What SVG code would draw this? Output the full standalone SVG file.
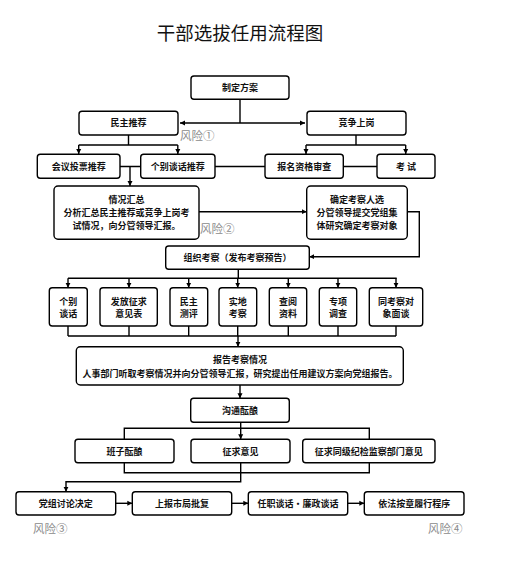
<svg xmlns="http://www.w3.org/2000/svg" width="505" height="569" viewBox="0 0 505 569">
<style>
.b{fill:#fff;stroke:#000;stroke-width:1.4}
.t{font-family:"Noto Sans CJK SC","Liberation Sans",sans-serif;font-size:9px;font-weight:bold;text-anchor:middle;fill:#111}
.r{font-family:"Noto Sans CJK SC","Liberation Serif",serif;font-size:11.5px;fill:#8a8a8a}
.l{fill:none;stroke:#000;stroke-width:1.4}
.a{fill:none;stroke:#000;stroke-width:1.4;marker-end:url(#ah)}
</style>
<defs>
<marker id="ah" markerWidth="6" markerHeight="6" refX="5" refY="3" orient="auto" markerUnits="userSpaceOnUse">
<path d="M0,0.5 L5,3 L0,5.5 Z" fill="#000"/>
</marker>
<marker id="as" markerWidth="6" markerHeight="6" refX="1" refY="3" orient="auto" markerUnits="userSpaceOnUse">
<path d="M6,0.5 L1,3 L6,5.5 Z" fill="#000"/>
</marker>
</defs>
<rect width="505" height="569" fill="#fff"/>
<text x="240" y="40" style="font-family:'Noto Sans CJK SC',sans-serif;font-size:18.5px;text-anchor:middle;fill:#111">干部选拔任用流程图</text>

<g id="connectors">
<path class="l" d="M240,99 V123"/>
<path class="l" d="M180,123 H305" marker-start="url(#as)" marker-end="url(#ah)"/>
<path class="l" d="M128.5,135 V145 M78.7,145 H177.8"/>
<path class="a" d="M78.7,145 V154"/>
<path class="a" d="M177.8,145 V154"/>
<path class="l" d="M356,135 V145 M306,145 H405.7"/>
<path class="a" d="M306,145 V154"/>
<path class="a" d="M405.7,145 V154"/>
<path class="l" d="M120,166.5 H140.7 M215,166.5 H265 M343.3,166.5 H377"/>
<path class="a" d="M130,166.5 V186"/>
<path class="a" d="M199,211.7 H306.7"/>
<path class="a" d="M407.3,211.7 H419.3 V256.7 H309.3"/>
<path class="l" d="M238.3,269.3 V278.3 M68,278.3 H396.7"/>
<path class="a" d="M68,278.3 V287.7"/>
<path class="a" d="M129,278.3 V287.7"/>
<path class="a" d="M188.7,278.3 V287.7"/>
<path class="a" d="M237.7,278.3 V287.7"/>
<path class="a" d="M288.3,278.3 V287.7"/>
<path class="a" d="M338,278.3 V287.7"/>
<path class="a" d="M396,278.3 V287.7"/>
<path class="l" d="M68,326 V336 M129,326 V336 M188.7,326 V336 M237.7,326 V336 M288.3,326 V336 M338,326 V336 M396,326 V336 M68,336 H396"/>
<path class="a" d="M238,336 V346.7"/>
<path class="a" d="M240,385 V398.3"/>
<path class="a" d="M240.7,422.3 V439.3"/>
<path class="l" d="M124.3,439.3 V428.3 H369.3 V439.3"/>
<path class="l" d="M124.3,462.7 V472.7 H369.3 V462.7"/>
<path class="a" d="M240.7,462.7 V481.7 H66 V491.7"/>
<path class="a" d="M115.7,503.3 H132.3"/>
<path class="a" d="M231.7,503.3 H248.3"/>
<path class="a" d="M347.7,503.3 H364.3"/>
</g>

<g id="n-zhiding"><rect class="b" x="191" y="76" width="98" height="23.3" rx="3"/><text class="t" x="240" y="91">制定方案</text></g>
<g id="n-minzhu"><rect class="b" x="79" y="111.3" width="99" height="23.7" rx="3"/><text class="t" x="128.5" y="126.3">民主推荐</text></g>
<g id="n-jingzheng"><rect class="b" x="307" y="111.3" width="99" height="23.7" rx="3"/><text class="t" x="356.5" y="126.3">竞争上岗</text></g>
<g id="n-huiyi"><rect class="b" x="37.3" y="154.3" width="82.7" height="24" rx="3"/><text class="t" x="78.7" y="169.5">会议投票推荐</text></g>
<g id="n-gebie"><rect class="b" x="140.7" y="154.3" width="74.3" height="24" rx="3"/><text class="t" x="177.8" y="169.5">个别谈话推荐</text></g>
<g id="n-baoming"><rect class="b" x="265" y="154.3" width="78.3" height="24" rx="3"/><text class="t" x="304.2" y="169.5">报名资格审查</text></g>
<g id="n-kaoshi"><rect class="b" x="377" y="154.3" width="58" height="24" rx="3"/><text class="t" x="406" y="169.5">考  试</text></g>
<g id="n-qingkuang"><rect class="b" x="54" y="186" width="145" height="53.3" rx="4"/><text class="t" x="126.5" y="203">情况汇总</text><text class="t" x="126.5" y="216">分析汇总民主推荐或竞争上岗考</text><text class="t" x="126.5" y="229">试情况，向分管领导汇报。</text></g>
<g id="n-queding"><rect class="b" x="306.7" y="186" width="100.6" height="53.3" rx="4"/><text class="t" x="357" y="203">确定考察人选</text><text class="t" x="357" y="216">分管领导提交党组集</text><text class="t" x="357" y="229">体研究确定考察对象</text></g>
<g id="n-zuzhi"><rect class="b" x="165.7" y="246" width="143.6" height="23.3" rx="3"/><text class="t" x="237.5" y="261">组织考察（发布考察预告）</text></g>
<g id="n-k1"><rect class="b" x="49.3" y="287.7" width="38" height="38.3" rx="3"/><text class="t" x="68.3" y="304.5">个别</text><text class="t" x="68.3" y="317">谈话</text></g>
<g id="n-k2"><rect class="b" x="100" y="287.7" width="57.3" height="38.3" rx="3"/><text class="t" x="128.7" y="304.5">发放征求</text><text class="t" x="128.7" y="317">意见表</text></g>
<g id="n-k3"><rect class="b" x="170" y="287.7" width="37.7" height="38.3" rx="3"/><text class="t" x="188.8" y="304.5">民主</text><text class="t" x="188.8" y="317">测评</text></g>
<g id="n-k4"><rect class="b" x="219" y="287.7" width="37.7" height="38.3" rx="3"/><text class="t" x="237.8" y="304.5">实地</text><text class="t" x="237.8" y="317">考察</text></g>
<g id="n-k5"><rect class="b" x="269.3" y="287.7" width="37.4" height="38.3" rx="3"/><text class="t" x="288" y="304.5">查阅</text><text class="t" x="288" y="317">资料</text></g>
<g id="n-k6"><rect class="b" x="319.3" y="287.7" width="37.4" height="38.3" rx="3"/><text class="t" x="338" y="304.5">专项</text><text class="t" x="338" y="317">调查</text></g>
<g id="n-k7"><rect class="b" x="369.3" y="287.7" width="53.4" height="38.3" rx="3"/><text class="t" x="396" y="304.5">同考察对</text><text class="t" x="396" y="317">象面谈</text></g>
<g id="n-baogao"><rect class="b" x="76.3" y="346.7" width="327" height="38.3" rx="4"/><text class="t" x="240" y="363">报告考察情况</text><text class="t" x="240" y="377">人事部门听取考察情况并向分管领导汇报，研究提出任用建议方案向党组报告。</text></g>
<g id="n-goutong"><rect class="b" x="190.7" y="398.3" width="98.6" height="24" rx="3"/><text class="t" x="240" y="413.8">沟通酝酿</text></g>
<g id="n-banzi"><rect class="b" x="75" y="439.3" width="99" height="23.4" rx="3"/><text class="t" x="124.5" y="454.5">班子酝酿</text></g>
<g id="n-zhengqiu"><rect class="b" x="191" y="439.3" width="99" height="23.4" rx="3"/><text class="t" x="240.5" y="454.5">征求意见</text></g>
<g id="n-jijian"><rect class="b" x="302.7" y="439.3" width="132.3" height="23.4" rx="3"/><text class="t" x="368.8" y="454.5">征求同级纪检监察部门意见</text></g>
<g id="n-dangzu"><rect class="b" x="16" y="491.7" width="99.7" height="23.3" rx="3"/><text class="t" x="65.8" y="506.5">党组讨论决定</text></g>
<g id="n-shangbao"><rect class="b" x="132.3" y="491.7" width="99.4" height="23.3" rx="3"/><text class="t" x="182" y="506.5">上报市局批复</text></g>
<g id="n-renzhi"><rect class="b" x="248.3" y="491.7" width="99.4" height="23.3" rx="3"/><text class="t" x="298" y="506.5">任职谈话·廉政谈话</text></g>
<g id="n-yifa"><rect class="b" x="364.3" y="491.7" width="99.7" height="23.3" rx="3"/><text class="t" x="414.2" y="506.5">依法按章履行程序</text></g>

<text class="r" x="180" y="139.5">风险①</text>
<text class="r" x="200" y="233">风险②</text>
<text class="r" x="33" y="533">风险③</text>
<text class="r" x="428" y="533">风险④</text>
</svg>
